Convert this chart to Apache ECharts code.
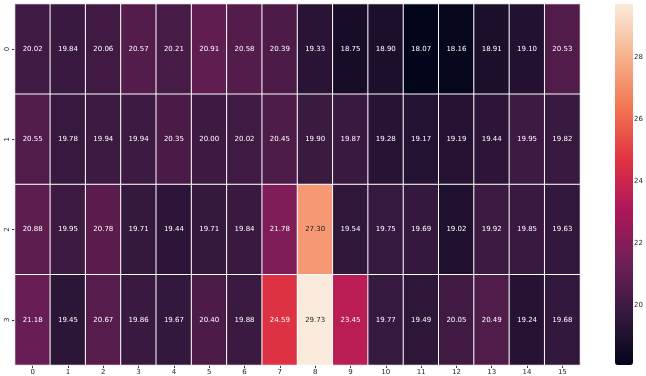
<!DOCTYPE html>
<html>
<head>
<meta charset="utf-8">
<script src="https://cdn.jsdelivr.net/npm/echarts@6/dist/echarts.min.js"></script>
<style>html,body{margin:0;padding:0;background:#fff;}#c{width:646px;height:376px;}</style>
</head>
<body>
<div id="c"></div>
<script>
const colLabels = ['0','1','2','3','4','5','6','7','8','9','10','11','12','13','14','15'];
const rowLabels = ['0','1','2','3'];
const row0 = [20.02,19.84,20.06,20.57,20.21,20.91,20.58,20.39,19.33,18.75,18.90,18.07,18.16,18.91,19.10,20.53];
const row1 = [20.55,19.78,19.94,19.94,20.35,20.00,20.02,20.45,19.90,19.87,19.28,19.17,19.19,19.44,19.95,19.82];
const row2 = [20.88,19.95,20.78,19.71,19.44,19.71,19.84,21.78,27.30,19.54,19.75,19.69,19.02,19.92,19.85,19.63];
const row3 = [21.18,19.45,20.67,19.86,19.67,20.40,19.88,24.59,29.73,23.45,19.77,19.49,20.05,20.49,19.24,19.68];
const colorbarTicks = [20,22,24,26,28];

const rows = [row0,row1,row2,row3];
const all = rows.flat();
const vmin = Math.min(...all), vmax = Math.max(...all);
const rocket = ['#03051a','#35193e','#701f57','#ad1759','#e13342','#f37651','#f6b48f','#faebdd'];

const data = [];
rows.forEach((r, ri) => r.forEach((v, ci) => {
  const t = (v - vmin) / (vmax - vmin);
  data.push({value: [ci, ri, v], label: {color: t > 0.75 ? '#262626' : '#ffffff'}});
}));

const chart = echarts.init(document.getElementById('c'), null, {renderer: 'canvas'});
const font = 'DejaVu Sans';
chart.setOption({
  animation: false,
  backgroundColor: '#ffffff',
  textStyle: {fontFamily: font},
  grid: [
    {left: 15, top: 4, width: 565, height: 361},
    {left: 615, top: 4, width: 18, height: 361}
  ],
  xAxis: [
    {type: 'category', gridIndex: 0, data: colLabels, position: 'bottom',
     axisLine: {show: false}, splitLine: {show: false},
     axisTick: {show: true, alignWithLabel: true, length: 3, lineStyle: {color: '#333'}},
     axisLabel: {fontSize: 7, color: '#262626', margin: 4, fontFamily: font}},
    {type: 'value', gridIndex: 1, show: false, min: 0, max: 1}
  ],
  yAxis: [
    {type: 'category', gridIndex: 0, data: rowLabels, inverse: true,
     axisLine: {show: false}, splitLine: {show: false},
     axisTick: {show: true, alignWithLabel: true, length: 3, lineStyle: {color: '#333'}},
     axisLabel: {fontSize: 7, color: '#262626', margin: 4, rotate: 90, fontFamily: font}},
    {type: 'value', gridIndex: 1, position: 'right', min: vmin, max: vmax,
     axisLine: {show: false}, splitLine: {show: false},
     axisTick: {show: true, length: 3, customValues: colorbarTicks, lineStyle: {color: '#333'}},
     axisLabel: {show: true, customValues: colorbarTicks, fontSize: 7, color: '#262626', margin: 3, fontFamily: font}}
  ],
  visualMap: {
    type: 'continuous', min: vmin, max: vmax, dimension: 2, seriesIndex: 0,
    calculable: false, show: true, orient: 'vertical',
    left: 615, top: 4, itemWidth: 18, itemHeight: 361, padding: 0,
    text: ['', ''], showLabel: false, hoverLink: false,
    inRange: {color: rocket}
  },
  series: [{
    type: 'heatmap', xAxisIndex: 0, yAxisIndex: 0, data: data,
    itemStyle: {borderColor: '#ffffff', borderWidth: 1},
    label: {show: true, fontSize: 7, fontFamily: font, formatter: p => p.value[2].toFixed(2)},
    emphasis: {disabled: true}
  }]
});
</script>
</body>
</html>
